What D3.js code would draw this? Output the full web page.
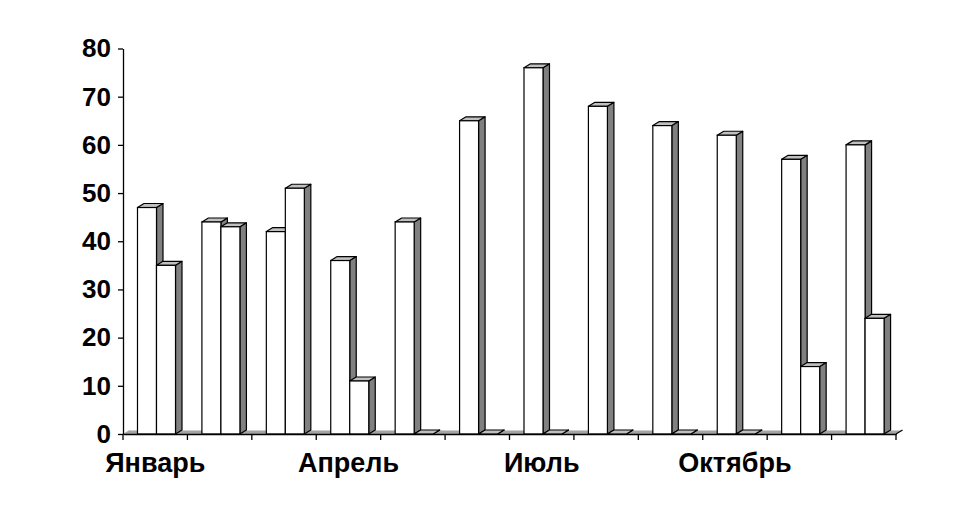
<!DOCTYPE html>
<html>
<head>
<meta charset="utf-8">
<script src="https://cdn.jsdelivr.net/npm/d3@7"></script>
<style>
  body { margin: 0; background: #fff; }
  svg text { font-family: "Liberation Sans", Arial, sans-serif; font-weight: bold; }
</style>
</head>
<body>
<div id="chart"></div>
<script>
// months (only every third one is labelled on the axis)
var months = ["Январь", "Февраль", "Март", "Апрель", "Май", "Июнь",
              "Июль", "Август", "Сентябрь", "Октябрь", "Ноябрь", "Декабрь"];
var shownLabels = ["Январь", "Апрель", "Июль", "Октябрь"];
var series1 = [47, 44, 42, 36, 44, 65, 76, 68, 64, 62, 57, 60];
var series2 = [35, 43, 51, 11, 0, 0, 0, 0, 0, 0, 14, 24];
var yTicks = [0, 10, 20, 30, 40, 50, 60, 70, 80];

var width = 976, height = 512;
var plotLeft = 123, plotRight = 896, plotTop = 48.5, plotBottom = 434;
var dx = 6.5, dy = -4; // depth of the 3d bars

var svg = d3.select("#chart").append("svg").attr("width", width).attr("height", height);

var xScale = d3.scaleBand().domain(months).range([plotLeft, plotRight]).padding(0);
var bw = xScale.bandwidth();
var inner = d3.scaleBand().domain(["s1", "s2"]).range([bw * 0.225, bw * 0.225 + bw * 0.59]);
var yScale = d3.scaleLinear().domain([0, 80]).range([plotBottom, plotTop]);

var barData = [];
months.forEach(function (m, i) {
    barData.push({month: m, key: "s1", value: series1[i]});
    barData.push({month: m, key: "s2", value: series2[i]});
});

// floor
svg.append("path")
    .attr("d", "M" + plotLeft + "," + plotBottom + "L" + plotRight + "," + plotBottom +
               "L" + (plotRight + dx) + "," + (plotBottom + dy) + "L" + (plotLeft + dx) + "," + (plotBottom + dy) + "Z")
    .attr("fill", "#a4a4a4");
svg.append("line")
    .attr("x1", plotLeft + dx).attr("x2", plotRight + dx)
    .attr("y1", plotBottom + dy + 0.5).attr("y2", plotBottom + dy + 0.5)
    .attr("stroke", "#cfcfcf").attr("stroke-width", 1);
svg.append("line")
    .attr("x1", plotRight).attr("y1", plotBottom).attr("x2", plotRight + dx).attr("y2", plotBottom + dy)
    .attr("stroke", "#000").attr("stroke-width", 1.2);

// bars
var bars = svg.append("g").selectAll("g.bar")
    .data(barData).enter().append("g").attr("class", "bar");

function x0(d) { return xScale(d.month) + inner(d.key); }
function x1(d) { return x0(d) + inner.bandwidth(); }

bars.append("path") // side face
    .attr("d", function (d) {
        var y = yScale(d.value);
        return "M" + x1(d) + "," + plotBottom + "L" + x1(d) + "," + y +
               "L" + (x1(d) + dx) + "," + (y + dy) + "L" + (x1(d) + dx) + "," + (plotBottom + dy) + "Z";
    })
    .attr("fill", "#808080").attr("stroke", "#000").attr("stroke-width", 1.2).attr("stroke-linejoin", "round");

bars.append("path") // top face
    .attr("d", function (d) {
        var y = yScale(d.value);
        return "M" + x0(d) + "," + y + "L" + x1(d) + "," + y +
               "L" + (x1(d) + dx) + "," + (y + dy) + "L" + (x0(d) + dx) + "," + (y + dy) + "Z";
    })
    .attr("fill", "#c0c0c0").attr("stroke", "#000").attr("stroke-width", 1.2).attr("stroke-linejoin", "round");

bars.append("rect") // front face
    .attr("x", x0)
    .attr("y", function (d) { return yScale(d.value); })
    .attr("width", inner.bandwidth())
    .attr("height", function (d) { return plotBottom - yScale(d.value); })
    .attr("fill", "#fff").attr("stroke", "#000").attr("stroke-width", 1.2);

// y axis
var yAxis = svg.append("g").attr("transform", "translate(" + plotLeft + ",0)")
    .call(d3.axisLeft(yScale).tickValues(yTicks).tickSize(5).tickPadding(7).tickSizeOuter(0));
yAxis.select(".domain").attr("stroke-width", 1.3);
yAxis.selectAll("line").attr("stroke-width", 1.3);
yAxis.selectAll("text").attr("font-size", "26px").attr("fill", "#000");

// x axis
var xAxis = svg.append("g").attr("transform", "translate(0," + plotBottom + ")")
    .call(d3.axisBottom(xScale).tickSize(0).tickPadding(19)
        .tickFormat(function (m) { return shownLabels.indexOf(m) >= 0 ? m : ""; }));
xAxis.select(".domain").attr("stroke-width", 1.3);
xAxis.selectAll("text").attr("font-size", "27px").attr("fill", "#000");

// ticks at the band edges
var edges = months.map(function (m) { return xScale(m); }).concat([plotRight]);
xAxis.selectAll("line.edge").data(edges).enter().append("line")
    .attr("class", "edge")
    .attr("x1", function (d) { return d; }).attr("x2", function (d) { return d; })
    .attr("y1", 0).attr("y2", 6)
    .attr("stroke", "#000").attr("stroke-width", 1.3);
</script>
</body>
</html>
